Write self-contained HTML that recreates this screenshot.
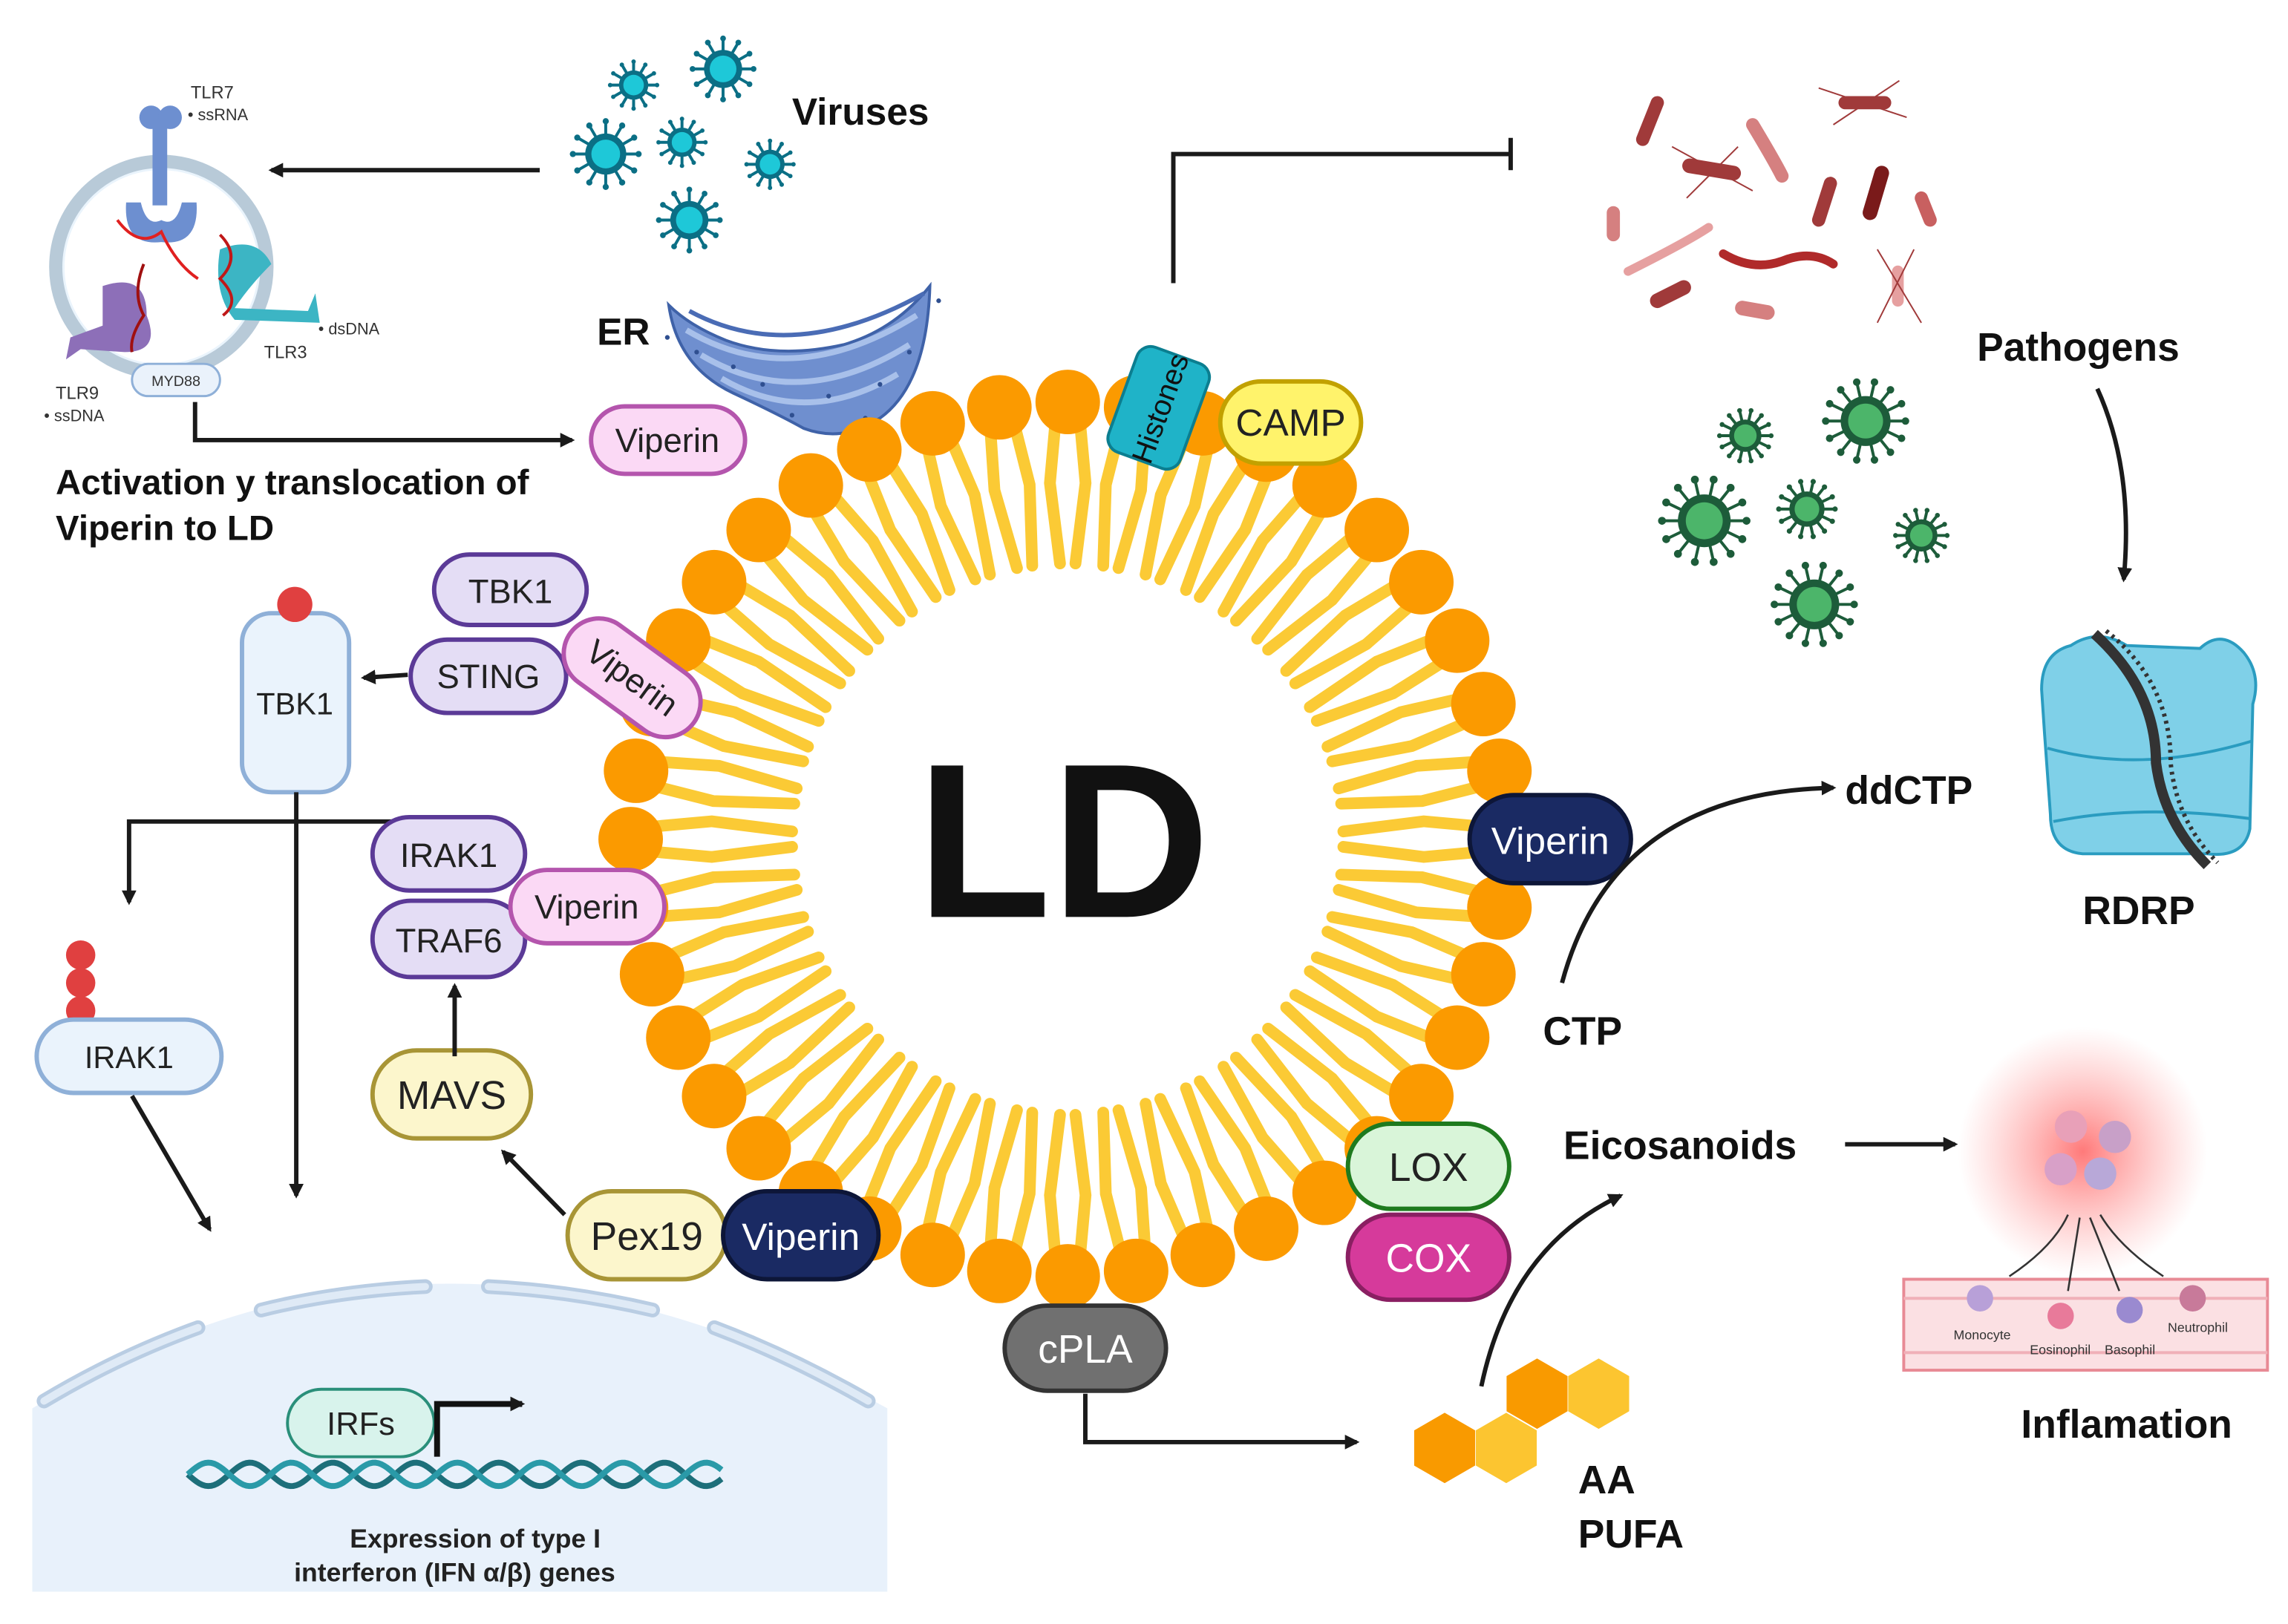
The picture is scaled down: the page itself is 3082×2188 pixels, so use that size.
<!DOCTYPE html>
<html><head><meta charset="utf-8">
<style>
html,body{margin:0;padding:0;background:#fff;}
svg{display:block;}
text{font-family:"Liberation Sans",sans-serif;}
.b{font-weight:bold;}
</style></head>
<body>
<svg id="s" width="3082" height="2188" viewBox="0 0 1560 1107" preserveAspectRatio="none" xmlns="http://www.w3.org/2000/svg">
<defs>
<marker id="ar" markerWidth="10" markerHeight="10" refX="8" refY="5" orient="auto" markerUnits="userSpaceOnUse"><path d="M0,0 L10,5 L0,10 Z" fill="#1a1a1a"/></marker>
<radialGradient id="glow"><stop offset="0" stop-color="#ff6b6b" stop-opacity="0.9"/><stop offset="1" stop-color="#ff9a9a" stop-opacity="0"/></radialGradient>
</defs>
<rect width="1560" height="1107" fill="#fff"/>

<!-- nucleus -->
<path d="M22,960 Q300,790 605,960 L605,1085 L22,1085 Z" fill="#e8f1fb"/>
<g stroke="#b9cde3" stroke-width="10" fill="none" stroke-linecap="round">
<path d="M30,955 Q80,925 135,905"/><path d="M178,893 Q230,880 290,877"/><path d="M333,877 Q390,880 445,893"/><path d="M487,905 Q540,925 592,955"/>
</g>
<g stroke="#dfeaf6" stroke-width="5" fill="none" stroke-linecap="round">
<path d="M30,955 Q80,925 135,905"/><path d="M178,893 Q230,880 290,877"/><path d="M333,877 Q390,880 445,893"/><path d="M487,905 Q540,925 592,955"/>
</g>
<path id="dna1" d="" stroke="#1d6f7a" stroke-width="4" fill="none"/>
<path id="dna2" d="" stroke="#2a9aa8" stroke-width="4" fill="none"/>
<rect x="196" y="947" width="100" height="46" rx="23" fill="#d8f3ec" stroke="#2a8f7a" stroke-width="2"/>
<text x="246" y="978" font-size="22" text-anchor="middle" fill="#222">IRFs</text>
<path d="M298,993 L298,957 L356,957" stroke="#111" stroke-width="4" fill="none" marker-end="url(#ar)"/>
<text x="324" y="1055" font-size="18" text-anchor="middle" class="b" fill="#222">Expression of type I</text>
<text x="310" y="1078" font-size="18" text-anchor="middle" class="b" fill="#222">interferon (IFN α/β) genes</text>

<!-- endosome -->
<circle cx="110" cy="182" r="72" fill="#eaf4fc" stroke="#b8cad8" stroke-width="9"/>
<circle cx="110" cy="182" r="66" fill="#fff"/>
<g fill="#6d8fd0"><rect x="104" y="80" width="10" height="60"/><circle cx="103" cy="80" r="8"/><circle cx="116" cy="80" r="8"/><path d="M86,138 Q84,168 110,165 Q136,168 134,138 L124,138 Q120,155 110,150 Q100,155 96,138Z"/></g>
<path d="M80,150 Q95,170 110,158 Q120,180 135,190" stroke="#e02020" stroke-width="2" fill="none"/>
<g fill="#3cb5c4"><path d="M150,170 Q175,160 185,180 Q170,195 160,210 L210,212 L215,200 L218,220 L160,218 Q145,200 150,170Z"/></g>
<path d="M150,160 Q165,175 150,190 Q165,205 152,215" stroke="#c01818" stroke-width="2" fill="none"/>
<g fill="#8d6fb8"><path d="M70,195 Q100,185 100,215 Q110,240 85,240 L55,238 L45,245 L48,230 L70,222Z"/></g>
<path d="M98,180 Q90,200 98,215 Q88,230 90,240" stroke="#a01010" stroke-width="2" fill="none"/>
<text x="130" y="67" font-size="12" fill="#333">TLR7</text>
<text x="128" y="82" font-size="11" fill="#333">• ssRNA</text>
<text x="217" y="228" font-size="11" fill="#333">• dsDNA</text>
<text x="180" y="244" font-size="12" fill="#333">TLR3</text>
<text x="38" y="272" font-size="12" fill="#333">TLR9</text>
<text x="30" y="287" font-size="11" fill="#333">• ssDNA</text>
<rect x="90" y="248" width="60" height="22" rx="11" fill="#eaf2fb" stroke="#8fb0d8" stroke-width="1.5"/>
<text x="120" y="263" font-size="10" text-anchor="middle" fill="#333">MYD88</text>
<path d="M133,274 L133,300 L390,300" stroke="#1a1a1a" stroke-width="3" fill="none" marker-end="url(#ar)"/>
<text x="38" y="337" font-size="24" class="b" fill="#111">Activation y translocation of</text>
<text x="38" y="368" font-size="24" class="b" fill="#111">Viperin to LD</text>
<path d="M368,116 L185,116" stroke="#1a1a1a" stroke-width="3" marker-end="url(#ar)"/>

<!-- viruses -->
<g id="vir"></g>
<text x="540" y="85" font-size="26" class="b" fill="#111">Viruses</text>

<!-- ER -->
<path d="M456,208 Q462,250 500,268 Q530,282 548,292 Q575,302 600,285 Q632,262 634,195 Q610,225 575,235 Q530,245 495,232 Q470,222 456,208Z" fill="#6f8fcf" stroke="#3f62a8" stroke-width="2"/>
<path d="M468,225 Q540,268 625,215 M478,242 Q545,282 620,235 M492,258 Q550,292 612,255" stroke="#a8c0ea" stroke-width="4" fill="none"/>
<path d="M470,212 Q540,250 630,200" stroke="#4a6cb5" stroke-width="3" fill="none"/>
<g fill="#2f4f90"><circle cx="475" cy="240" r="1.6"/><circle cx="520" cy="262" r="1.6"/><circle cx="565" cy="270" r="1.6"/><circle cx="600" cy="262" r="1.6"/><circle cx="620" cy="240" r="1.6"/><circle cx="590" cy="285" r="1.6"/><circle cx="540" cy="283" r="1.6"/><circle cx="500" cy="250" r="1.6"/><circle cx="455" cy="230" r="1.6"/><circle cx="640" cy="205" r="1.6"/></g>
<text x="407" y="235" font-size="26" class="b" fill="#111">ER</text>
<rect x="403" y="277" width="105" height="46" rx="23" fill="#fbd9f5" stroke="#b455ad" stroke-width="3"/>
<text x="455" y="308" font-size="23" text-anchor="middle" fill="#222">Viperin</text>

<!-- inhibition line -->
<path d="M800,193 L800,105 L1030,105 M1030,94 L1030,116" stroke="#1a1a1a" stroke-width="3" fill="none"/>

<!-- LD lipids -->
<g id="lip"></g>
<text x="725" y="625" font-size="150" text-anchor="middle" class="b" fill="#111">LD</text>

<!-- Histones & CAMP -->
<g transform="translate(790,278) rotate(-70)"><rect x="-38" y="-26" width="76" height="52" rx="10" fill="#1fb3c8" stroke="#0b7e90" stroke-width="2"/><text x="0" y="8" font-size="20" text-anchor="middle" fill="#111">Histones</text></g>
<rect x="832" y="260" width="96" height="56" rx="28" fill="#fff36b" stroke="#c2a100" stroke-width="3"/>
<text x="880" y="297" font-size="26" text-anchor="middle" fill="#222">CAMP</text>

<!-- left complexes -->
<rect x="296" y="378" width="104" height="48" rx="24" fill="#e4ddf5" stroke="#5b3a97" stroke-width="3"/>
<text x="348" y="411" font-size="23" text-anchor="middle" fill="#222">TBK1</text>
<rect x="280" y="436" width="106" height="50" rx="25" fill="#e4ddf5" stroke="#5b3a97" stroke-width="3"/>
<text x="333" y="469" font-size="23" text-anchor="middle" fill="#222">STING</text>
<g transform="translate(431,462) rotate(36)"><rect x="-52" y="-24" width="104" height="48" rx="24" fill="#fbd9f5" stroke="#b455ad" stroke-width="3"/><text x="0" y="8" font-size="23" text-anchor="middle" fill="#222">Viperin</text></g>

<rect x="165" y="418" width="73" height="122" rx="20" fill="#eaf3fc" stroke="#8fb0d8" stroke-width="3"/>
<circle cx="201" cy="412" r="12" fill="#e04040"/>
<text x="201" y="487" font-size="21" text-anchor="middle" fill="#222">TBK1</text>
<path d="M278,460 L248,462" stroke="#1a1a1a" stroke-width="3" marker-end="url(#ar)"/>
<path d="M202,540 L202,815" stroke="#1a1a1a" stroke-width="3" marker-end="url(#ar)"/>
<path d="M290,560 L88,560 L88,615" stroke="#1a1a1a" stroke-width="3" fill="none" marker-end="url(#ar)"/>

<circle cx="55" cy="651" r="10" fill="#e04040"/><circle cx="55" cy="670" r="10" fill="#e04040"/><circle cx="55" cy="689" r="10" fill="#e04040"/>
<rect x="25" y="695" width="126" height="50" rx="25" fill="#eaf3fc" stroke="#8fb0d8" stroke-width="3"/>
<text x="88" y="728" font-size="21" text-anchor="middle" fill="#222">IRAK1</text>
<path d="M90,747 L143,838" stroke="#1a1a1a" stroke-width="3" marker-end="url(#ar)"/>

<rect x="254" y="557" width="104" height="50" rx="25" fill="#e4ddf5" stroke="#5b3a97" stroke-width="3"/>
<text x="306" y="591" font-size="23" text-anchor="middle" fill="#222">IRAK1</text>
<rect x="254" y="614" width="104" height="52" rx="26" fill="#e4ddf5" stroke="#5b3a97" stroke-width="3"/>
<text x="306" y="649" font-size="23" text-anchor="middle" fill="#222">TRAF6</text>
<rect x="348" y="593" width="105" height="50" rx="25" fill="#fbd9f5" stroke="#b455ad" stroke-width="3"/>
<text x="400" y="626" font-size="23" text-anchor="middle" fill="#222">Viperin</text>

<rect x="254" y="716" width="108" height="60" rx="30" fill="#fcf6cc" stroke="#a89536" stroke-width="3"/>
<text x="308" y="756" font-size="27" text-anchor="middle" fill="#222">MAVS</text>
<path d="M310,720 L310,672" stroke="#1a1a1a" stroke-width="3" marker-end="url(#ar)"/>
<path d="M385,828 L343,785" stroke="#1a1a1a" stroke-width="3" marker-end="url(#ar)"/>
<rect x="387" y="812" width="108" height="60" rx="30" fill="#fcf6cc" stroke="#a89536" stroke-width="3"/>
<text x="441" y="852" font-size="27" text-anchor="middle" fill="#222">Pex19</text>
<rect x="493" y="812" width="106" height="60" rx="30" fill="#1a2a63" stroke="#0d1638" stroke-width="3"/>
<text x="546" y="852" font-size="26" text-anchor="middle" fill="#fff">Viperin</text>

<!-- right side -->
<rect x="1002" y="542" width="110" height="60" rx="30" fill="#1a2a63" stroke="#0d1638" stroke-width="3"/>
<text x="1057" y="582" font-size="26" text-anchor="middle" fill="#fff">Viperin</text>
<path d="M1065,670 Q1100,540 1250,537" stroke="#1a1a1a" stroke-width="3" fill="none" marker-end="url(#ar)"/>
<text x="1258" y="548" font-size="27" class="b" fill="#111">ddCTP</text>
<text x="1052" y="712" font-size="27" class="b" fill="#111">CTP</text>

<rect x="919" y="766" width="110" height="58" rx="29" fill="#d9f5d9" stroke="#1e7a1e" stroke-width="3"/>
<text x="974" y="805" font-size="27" text-anchor="middle" fill="#222">LOX</text>
<rect x="919" y="828" width="110" height="58" rx="29" fill="#d63a9b" stroke="#8a1f62" stroke-width="3"/>
<text x="974" y="867" font-size="27" text-anchor="middle" fill="#fff">COX</text>
<rect x="685" y="890" width="110" height="58" rx="29" fill="#707070" stroke="#333" stroke-width="3"/>
<text x="740" y="929" font-size="27" text-anchor="middle" fill="#fff">cPLA</text>
<path d="M740,950 L740,983 L925,983" stroke="#1a1a1a" stroke-width="3" fill="none" marker-end="url(#ar)"/>

<g id="hex"></g>
<text x="1076" y="1018" font-size="27" class="b" fill="#111">AA</text>
<text x="1076" y="1055" font-size="27" class="b" fill="#111">PUFA</text>
<path d="M1010,945 Q1030,850 1105,815" stroke="#1a1a1a" stroke-width="3" fill="none" marker-end="url(#ar)"/>
<text x="1066" y="790" font-size="27" class="b" fill="#111">Eicosanoids</text>
<path d="M1258,780 L1333,780" stroke="#1a1a1a" stroke-width="3" marker-end="url(#ar)"/>

<!-- inflammation -->
<circle cx="1420" cy="785" r="85" fill="url(#glow)"/>
<circle cx="1412" cy="768" r="11" fill="#e8a0b8"/><circle cx="1442" cy="775" r="11" fill="#c8a0c8"/><circle cx="1405" cy="797" r="11" fill="#d8a0c8"/><circle cx="1432" cy="800" r="11" fill="#b8a8d8"/>
<rect x="1298" y="872" width="248" height="62" fill="#fbe0e3" stroke="#e88a95" stroke-width="2"/>
<path d="M1298,885 L1546,885 M1298,922 L1546,922" stroke="#f0b0b8" stroke-width="2"/>
<g stroke="#333" stroke-width="1.3" fill="none"><path d="M1370,870 Q1400,850 1410,828"/><path d="M1410,880 L1418,830"/><path d="M1445,880 L1425,830"/><path d="M1475,870 Q1445,850 1432,828"/></g>
<circle cx="1350" cy="885" r="9" fill="#b8a0d8"/><circle cx="1405" cy="897" r="9" fill="#e87a9a"/><circle cx="1452" cy="893" r="9" fill="#9a8ad0"/><circle cx="1495" cy="885" r="9" fill="#c87a9a"/>
<text x="1332" y="913" font-size="9" fill="#333">Monocyte</text><text x="1384" y="923" font-size="9" fill="#333">Eosinophil</text><text x="1435" y="923" font-size="9" fill="#333">Basophil</text><text x="1478" y="908" font-size="9" fill="#333">Neutrophil</text>
<text x="1378" y="980" font-size="27" class="b" fill="#111">Inflamation</text>

<!-- bacteria -->
<g stroke-linecap="round" fill="none">
<path d="M1120,95 L1130,70" stroke="#a03a3a" stroke-width="9"/>
<path d="M1195,85 Q1210,110 1215,120" stroke="#d58080" stroke-width="9"/>
<path d="M1258,70 L1285,70" stroke="#a03a3a" stroke-width="9"/>
<path d="M1152,113 L1182,118" stroke="#a03a3a" stroke-width="10"/>
<path d="M1240,150 L1248,125" stroke="#a03a3a" stroke-width="9"/>
<path d="M1275,145 L1283,118" stroke="#7a1a1a" stroke-width="10"/>
<path d="M1310,135 L1316,150" stroke="#c86060" stroke-width="9"/>
<path d="M1100,145 L1100,160" stroke="#d58080" stroke-width="9"/>
<path d="M1110,185 Q1150,165 1165,155" stroke="#e6a0a0" stroke-width="6"/>
<path d="M1175,173 Q1195,185 1215,178 Q1235,170 1250,180" stroke="#b02a2a" stroke-width="6"/>
<path d="M1130,205 L1148,196" stroke="#a03a3a" stroke-width="10"/>
<path d="M1188,210 L1205,213" stroke="#d58080" stroke-width="10"/>
<path d="M1294,185 L1294,205" stroke="#e6a0a0" stroke-width="8"/>
</g>
<g stroke="#a03a3a" stroke-width="1" fill="none">
<path d="M1140,100 L1195,130 M1150,135 L1185,100 M1240,60 L1300,80 M1250,85 L1295,55 M1280,170 L1310,220 M1305,170 L1280,220"/>
</g>
<text x="1348" y="246" font-size="27" class="b" fill="#111">Pathogens</text>
<path d="M1430,265 Q1455,320 1448,395" stroke="#1a1a1a" stroke-width="3" fill="none" marker-end="url(#ar)"/>
<g id="gvir"></g>

<!-- RDRP -->
<path d="M1392,470 Q1392,445 1412,440 Q1430,428 1450,440 L1500,442 Q1515,428 1530,445 Q1542,460 1536,480 L1534,565 Q1530,585 1505,582 L1420,582 Q1398,580 1398,555 L1394,500 Z" fill="#7fd0e8" stroke="#2a9cc0" stroke-width="2"/>
<path d="M1396,510 Q1460,528 1536,505" stroke="#2a9cc0" stroke-width="2" fill="none"/>
<path d="M1400,560 Q1460,548 1534,558" stroke="#2a9cc0" stroke-width="2" fill="none"/>
<path d="M1428,432 Q1470,470 1470,520 Q1475,560 1505,590" stroke="#333" stroke-width="7" fill="none"/>
<path d="M1436,430 Q1480,465 1480,520 Q1484,560 1512,588" stroke="#333" stroke-width="3" stroke-dasharray="2 3" fill="none"/>
<text x="1420" y="630" font-size="27" class="b" fill="#111">RDRP</text>
</svg>
<script>
var NS="http://www.w3.org/2000/svg";
function el(p,t,a){var e=document.createElementNS(NS,t);for(var k in a)e.setAttribute(k,a[k]);p.appendChild(e);return e;}
var g=document.getElementById('lip'),cx=728,cy=572,N=40,R=298,Ri=188;
for(var i=0;i<N;i++){var a=i/N*2*Math.PI;
 for(var s=-1;s<=1;s+=2){var a2=a+s*0.028,a3=a+s*0.05;
  var x1=cx+Math.cos(a2)*(R-10),y1=cy+Math.sin(a2)*(R-10),xm=cx+Math.cos(a3)*(R-55),ym=cy+Math.sin(a3)*(R-55),x2=cx+Math.cos(a2)*Ri,y2=cy+Math.sin(a2)*Ri;
  el(g,'polyline',{points:x1+','+y1+' '+xm+','+ym+' '+x2+','+y2,stroke:'#fbca35','stroke-width':8,fill:'none','stroke-linecap':'round'});}
}
for(var i=0;i<N;i++){var a=i/N*2*Math.PI;el(g,'circle',{cx:cx+Math.cos(a)*R,cy:cy+Math.sin(a)*R,r:22,fill:'#fb9a00'});}
function virus(p,x,y,r,c,d,n){var gg=el(p,'g',{});for(var k=0;k<n;k++){var a=k/n*2*Math.PI;el(gg,'line',{x1:x,y1:y,x2:x+Math.cos(a)*r*1.6,y2:y+Math.sin(a)*r*1.6,stroke:d,'stroke-width':2});el(gg,'circle',{cx:x+Math.cos(a)*r*1.6,cy:y+Math.sin(a)*r*1.6,r:r*0.15,fill:d});}
el(gg,'circle',{cx:x,cy:y,r:r,fill:d});el(gg,'circle',{cx:x,cy:y,r:r*0.7,fill:c});}
var v=document.getElementById('vir');
[[432,58,10],[493,47,13],[413,105,14],[465,97,10],[525,112,10],[470,150,13]].forEach(function(q){virus(v,q[0],q[1],q[2],'#1ec8d8','#0b6f85',12);});
var gv=document.getElementById('gvir');
[[1190,297,11],[1272,287,17],[1162,355,18],[1232,347,12],[1310,365,11],[1237,412,17]].forEach(function(q){virus(gv,q[0],q[1],q[2],'#4cb56a','#1d5c3a',14);});
var h=document.getElementById('hex');
function hex(x,y,r,c){var pts=[];for(var k=0;k<6;k++){var a=Math.PI/6+k*Math.PI/3;pts.push((x+Math.cos(a)*r)+','+(y+Math.sin(a)*r));}el(h,'polygon',{points:pts.join(' '),fill:c});}
hex(985,987,24,'#f99a00');hex(1027,987,24,'#fcc530');hex(1048,950,24,'#f99a00');hex(1090,950,24,'#fcc530');
var d1='',d2='';for(var x=128;x<=492;x+=2){var y1=1005+8*Math.sin((x-128)/9),y2=1005-8*Math.sin((x-128)/9);d1+=(x==128?'M':'L')+x+','+y1;d2+=(x==128?'M':'L')+x+','+y2;}
document.getElementById('dna1').setAttribute('d',d1);document.getElementById('dna2').setAttribute('d',d2);
</script>
</body></html>
